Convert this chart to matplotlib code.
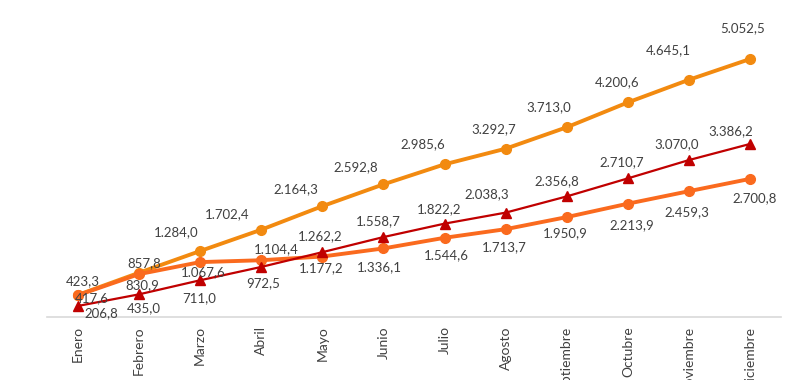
import matplotlib
matplotlib.use("Agg")
import matplotlib.pyplot as plt

meses = ["Enero", "Febrero", "Marzo", "Abril", "Mayo", "Junio", "Julio",
         "Agosto", "Septiembre", "Octubre", "Noviembre", "Diciembre"]

serie_naranja = [423.3, 857.8, 1284.0, 1702.4, 2164.3, 2592.8, 2985.6,
                 3292.7, 3713.0, 4200.6, 4645.1, 5052.5]
serie_roja = [206.8, 435.0, 711.0, 972.5, 1262.2, 1558.7, 1822.2,
              2038.3, 2356.8, 2710.7, 3070.0, 3386.2]
serie_coral = [417.6, 830.9, 1067.6, 1104.4, 1177.2, 1336.1, 1544.6,
               1713.7, 1950.9, 2213.9, 2459.3, 2700.8]

# label offsets in pixels (dx, dy with dy up)
off_naranja = [(5, 14), (5, 10), (-24, 19), (-34, 16), (-26, 17), (-28, 17),
               (-22, 20), (-12, 20), (-18, 20), (-11, 20), (-21, 30), (-8, 31)]
off_roja = [(24, -7), (5, -14), (-1, -18), (2, -16), (-2, 16), (-5, 16),
            (-5, 14), (-19, 18), (-10, 15), (-6, 16), (-12, 16), (-19, 13)]
off_coral = [(14, -3), (3, -11), (3, -10), (15, 11), (-1, -12), (-4, -19),
             (2, -17), (-1, -18), (-2, -16), (4, -21), (-2, -21), (4, -19)]


def fmt(v):
    s = f"{v:,.1f}"
    return s.replace(",", "X").replace(".", ",").replace("X", ".")


plt.rcParams['font.family'] = ['Lato', 'DejaVu Sans']

fig = plt.figure(figsize=(8, 3.8), dpi=100)
ax = fig.add_axes([0.059, 0.167, 0.917, 0.805])

x = list(range(len(meses)))
c_nar = "#F28A10"
c_cor = "#FA6A1E"
c_roj = "#C00000"

ax.plot(x, serie_naranja, color=c_nar, lw=2.8, marker="o", ms=7, zorder=3)
ax.plot(x, serie_coral, color=c_cor, lw=2.8, marker="o", ms=7, zorder=4)
ax.plot(x, serie_roja, color=c_roj, lw=1.6, marker="^", ms=7, zorder=5)

for serie, offs in [(serie_naranja, off_naranja), (serie_roja, off_roja),
                    (serie_coral, off_coral)]:
    for i, v in enumerate(serie):
        ax.annotate(fmt(v), (i, v), xytext=offs[i], textcoords="offset pixels",
                    ha="center", va="center", fontsize=9.5, color="#404040",
                    zorder=6)

ax.set_xlim(-0.5, 11.5)
ax.set_ylim(0, 6000)
ax.set_xticks(x)
ax.set_xticklabels(meses, rotation=90, fontsize=10, color="#404040")
ax.tick_params(axis="x", length=0, pad=7)
ax.set_yticks([])
for s in ["top", "right", "left"]:
    ax.spines[s].set_visible(False)
ax.spines["bottom"].set_color("#D9D9D9")
ax.spines["bottom"].set_linewidth(1.2)

fig.savefig("out.png", dpi=100)
